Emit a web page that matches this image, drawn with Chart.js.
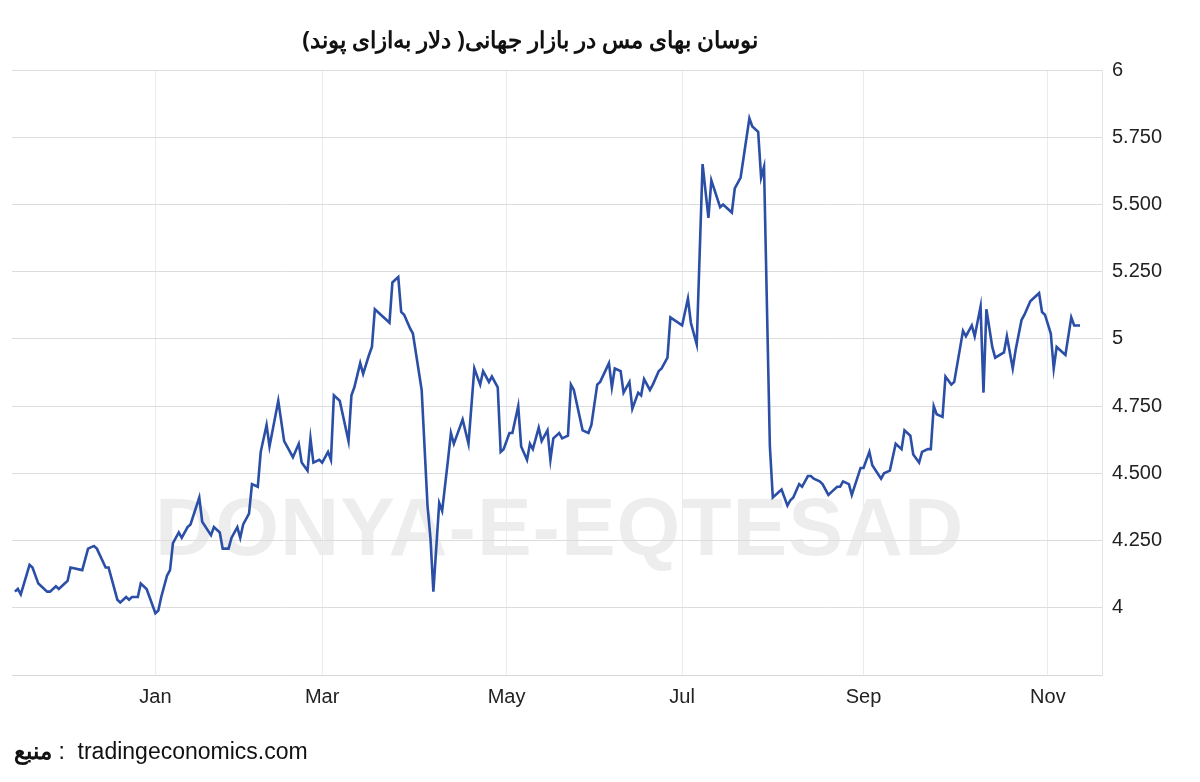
<!DOCTYPE html>
<html><head><meta charset="utf-8">
<script src="https://cdn.jsdelivr.net/npm/chart.js@4"></script>
<style>
body{margin:0;background:#fff;}
#wrap{position:relative;width:1200px;height:782px;overflow:hidden;font-family:"Liberation Sans",Arial,sans-serif;}
#title{position:absolute;top:23px;left:180px;width:700px;text-align:center;font-family:"Noto Sans",sans-serif;font-weight:bold;font-size:23px;color:#111;direction:rtl;}
#src{position:absolute;top:734px;left:14px;font-size:23px;color:#111;direction:ltr;}
#wm{position:absolute;top:480px;left:155px;font-size:82px;font-weight:bold;color:rgba(0,0,0,0.07);letter-spacing:1px;}
canvas{position:absolute;left:0;top:0;}
</style></head><body>
<div id="wrap">
<div id="wm">DONYA-E-EQTESAD</div>
<canvas id="c" width="1200" height="782"></canvas>
<div id="title">نوسان بهای مس در بازار جهانی( دلار به‌ازای پوند)</div>
<div id="src"><b style="font-family:'Noto Sans',sans-serif">منبع</b> :&nbsp; tradingeconomics.com</div>
</div>
<script>
const days=[-48,-47,-46,-43,-42,-40,-37,-36,-34,-33,-31,-30,-29,-25,-23,-21,-20,-17,-16,-13,-12,-10,-9,-8,-6,-5,-3,-2,0,1,2,4,5,6,8,9,11,12,15,16,19,20,22,23,25,26,28,29,30,32,33,35,36,38,39,42,44,45,47,49,50,52,53,54,56,57,59,60,61,63,66,67,68,70,71,73,74,75,79,80,81,83,84,85,87,88,91,93,94,95,97,98,100,101,102,104,105,107,109,111,112,114,115,117,118,119,121,122,124,125,127,128,129,131,132,134,135,136,138,139,141,142,143,146,148,149,151,152,155,156,157,159,160,162,163,165,166,167,169,170,172,173,175,176,180,182,183,185,187,189,190,193,194,197,198,200,203,204,206,207,208,210,211,214,216,217,218,220,221,223,224,225,227,228,230,231,233,234,235,237,238,241,242,244,245,248,249,251,253,255,256,258,259,261,262,264,265,266,267,269,270,272,273,276,277,279,280,282,283,284,286,287,290,291,293,294,296,297,299,300,302,303,304,306,307,308,311,313,314,316];
const prices=[4.06,4.07,4.05,4.16,4.15,4.09,4.06,4.06,4.08,4.07,4.09,4.10,4.15,4.14,4.22,4.23,4.22,4.15,4.15,4.03,4.02,4.04,4.03,4.04,4.04,4.09,4.07,4.04,3.98,3.99,4.04,4.12,4.14,4.24,4.28,4.26,4.30,4.31,4.41,4.32,4.27,4.30,4.28,4.22,4.22,4.26,4.30,4.26,4.31,4.35,4.46,4.45,4.58,4.68,4.60,4.77,4.62,4.60,4.56,4.61,4.54,4.51,4.63,4.54,4.55,4.54,4.58,4.55,4.79,4.77,4.62,4.79,4.82,4.91,4.87,4.94,4.97,5.11,5.07,5.06,5.21,5.23,5.10,5.09,5.04,5.02,4.81,4.38,4.26,4.06,4.39,4.36,4.55,4.65,4.61,4.67,4.70,4.61,4.89,4.83,4.88,4.84,4.86,4.82,4.58,4.59,4.65,4.65,4.75,4.60,4.55,4.61,4.59,4.67,4.62,4.66,4.55,4.63,4.65,4.63,4.64,4.83,4.81,4.66,4.65,4.68,4.83,4.84,4.91,4.82,4.89,4.88,4.80,4.84,4.74,4.80,4.79,4.85,4.81,4.83,4.88,4.89,4.93,5.08,5.05,5.15,5.06,4.98,5.65,5.45,5.59,5.49,5.50,5.47,5.56,5.60,5.82,5.79,5.77,5.60,5.64,4.60,4.41,4.44,4.38,4.40,4.41,4.46,4.45,4.49,4.49,4.48,4.47,4.46,4.42,4.43,4.45,4.45,4.47,4.46,4.42,4.52,4.52,4.58,4.53,4.48,4.50,4.51,4.61,4.59,4.66,4.64,4.57,4.54,4.58,4.59,4.59,4.75,4.72,4.71,4.86,4.83,4.84,5.03,5.01,5.05,5.01,5.12,4.80,5.11,4.97,4.93,4.95,5.01,4.89,4.96,5.07,5.09,5.14,5.15,5.17,5.10,5.09,5.02,4.89,4.97,4.94,5.08,5.05,5.05];
const monthTicks=[0,57,120,180,242,305];
const monthLabels=['Jan','Mar','May','Jul','Sep','Nov'];
const yTickLabels={6:'6',5.75:'5.750',5.5:'5.500',5.25:'5.250',5:'5',4.75:'4.750',4.5:'4.500',4.25:'4.250',4:'4'};

new Chart(document.getElementById('c'),{
 type:'line',
 data:{datasets:[{data:days.map((d,i)=>({x:d,y:prices[i]})),borderColor:'#2b4ea6',borderWidth:2.6,pointRadius:0,tension:0}]},
 options:{responsive:false,animation:false,
  layout:{padding:{left:12,top:70,right:0,bottom:0}},
  plugins:{legend:{display:false},tooltip:{enabled:false}},
  scales:{
   x:{type:'linear',min:-49,max:323.5,
    afterBuildTicks:a=>{a.ticks=monthTicks.map(v=>({value:v}));},
    afterFit:a=>{a.height=107;},
    ticks:{autoSkip:false,maxRotation:0,padding:10,color:'#222',font:{size:20,family:'Liberation Sans'},
     callback:v=>monthLabels[monthTicks.indexOf(v)]},
    grid:{color:'#e4edf0',drawTicks:false},border:{color:'#d8d8d8'}},
   y:{position:'right',min:3.75,max:6,
    afterBuildTicks:a=>{a.ticks=[3.75,4,4.25,4.5,4.75,5,5.25,5.5,5.75,6].map(v=>({value:v}));},
    afterFit:a=>{a.width=98;},
    ticks:{padding:10,color:'#222',font:{size:20,family:'Liberation Sans'},callback:v=>yTickLabels[v]||''},
    grid:{color:'#dcdcdc',drawTicks:false},border:{color:'#e0e6e8'}}
  }}
});
</script>
</body></html>
